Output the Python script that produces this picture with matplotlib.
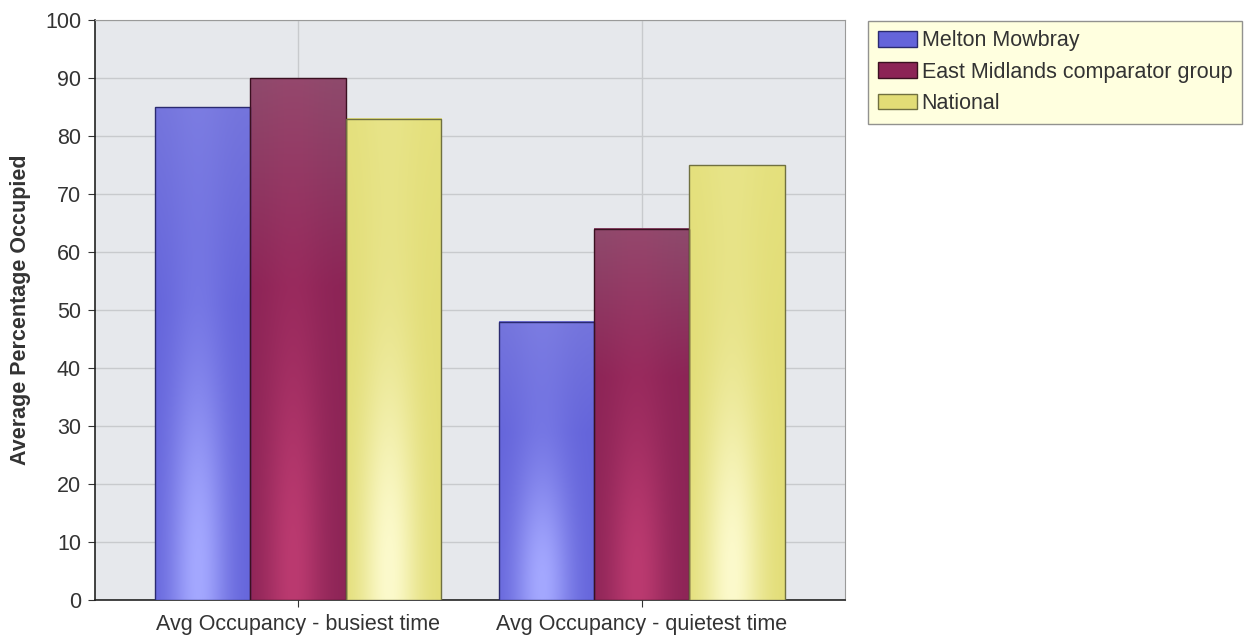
import numpy as np
import matplotlib
matplotlib.use('Agg')
import matplotlib.pyplot as plt
from matplotlib.colors import to_rgb

categories = ['Avg Occupancy - busiest time', 'Avg Occupancy - quietest time']
series = ['Melton Mowbray', 'East Midlands comparator group', 'National']
melton = [85, 48]
east_midlands = [90, 64]
national = [83, 75]
values = [melton, east_midlands, national]

base_colors = ['#6464da', '#8c2456', '#e2dd76']
top_colors = ['#7474dc', '#8e4a6c', '#e4e07c']
light_colors = ['#a4a8ff', '#bb3a70', '#fcfacc']
edge_colors = ['#2a2a70', '#3a1020', '#707040']

plt.rcParams['font.family'] = ['Liberation Sans', 'DejaVu Sans']

fig = plt.figure(figsize=(12.56, 6.42), dpi=100)
ax = fig.add_axes([0.0756, 0.0654, 0.597, 0.9034])

# plot background
ax.set_facecolor('#e6e8ec')

x = np.arange(len(categories))
w = 0.277
offsets = [-w, 0, w]


def bar_image(c0, ctop, c1, n=200):
    c0 = np.array(to_rgb(c0))
    ctop = np.array(to_rgb(ctop))
    c1 = np.array(to_rgb(c1))
    xs = np.linspace(0, 1, n)
    ys = np.linspace(0, 1, n)  # 0 = bottom
    hx = np.exp(-((xs - 0.45) / 0.3) ** 2)
    vy = 0.15 + 0.85 * np.exp(-((ys - 0.05) / 0.4) ** 2)
    t = np.outer(vy, hx)[..., None]
    # tint towards top colour near the top
    s = np.clip((ys - 0.6) / 0.4, 0, 1)[:, None, None]
    base = c0 * (1 - s) + ctop * s
    img = base * (1 - t) + c1 * t
    return img[::-1]


handles = []
for i, (vals, off) in enumerate(zip(values, offsets)):
    bars = ax.bar(x + off, vals, w, facecolor=base_colors[i],
                  edgecolor=edge_colors[i], linewidth=1.0, zorder=3,
                  label=series[i])
    img = bar_image(base_colors[i], top_colors[i], light_colors[i])
    for b in bars:
        ax.imshow(img, extent=[b.get_x(), b.get_x() + b.get_width(), 0, b.get_height()],
                  aspect='auto', zorder=3.5, interpolation='bilinear')
        b.set_facecolor('none')
        b.set_zorder(4)
    handles.append(bars)

ax.set_xlim(-0.59, 1.59)
ax.set_ylim(0, 100)
ax.set_yticks(np.arange(0, 101, 10))
ax.set_xticks(x)
ax.set_xticklabels(categories)
ax.tick_params(axis='both', labelsize=15.5, colors='#333333', length=5)
ax.tick_params(axis='y', pad=5)
ax.tick_params(axis='x', length=5, pad=5)
ax.grid(True, color='#c8cacd', linewidth=1.0, zorder=1)
ax.set_axisbelow(True)

for s in ['top', 'right']:
    ax.spines[s].set_color('#9a9a9a')
for s in ['left', 'bottom']:
    ax.spines[s].set_color('#222222')
    ax.spines[s].set_linewidth(1.2)

ax.set_ylabel('Average Percentage Occupied', fontsize=15.5, fontweight='bold',
              color='#333333', labelpad=10)

leg = fig.legend(handles=handles, labels=series, loc='upper left',
                 bbox_to_anchor=(0.691, 0.968), fontsize=15.5, frameon=True,
                 fancybox=False, handlelength=1.85, handleheight=0.75,
                 handletextpad=0.2, borderpad=0.45, labelspacing=0.48,
                 borderaxespad=0, labelcolor='#333333')
leg.get_frame().set_facecolor('#ffffd8')
leg.get_frame().set_edgecolor('#777777')
for h, c, e in zip(leg.legend_handles, base_colors, edge_colors):
    h.set_facecolor(c)
    h.set_edgecolor(e)

fig.savefig('out.png', dpi=100, facecolor='white')
